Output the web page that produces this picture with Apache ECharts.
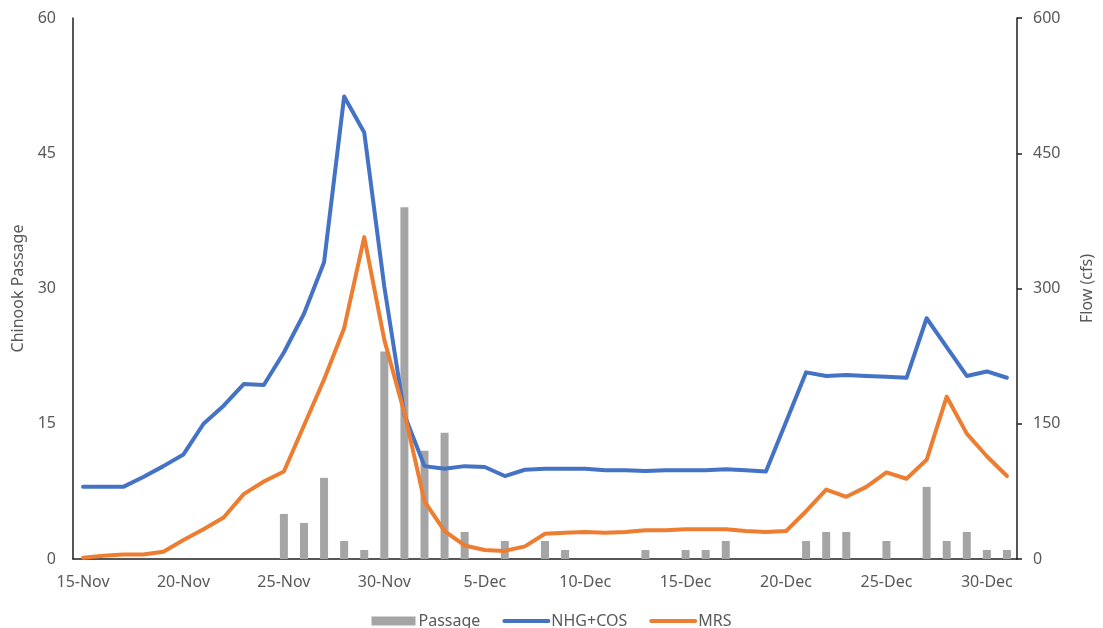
<!DOCTYPE html>
<html>
<head>
<meta charset="utf-8">
<script src="https://cdn.jsdelivr.net/npm/echarts@6/dist/echarts.min.js"></script>
<style>
  html, body { margin: 0; padding: 0; background: #ffffff; }
  #chart { width: 1103px; height: 628px; }
</style>
</head>
<body>
<div id="chart"></div>
<script>
// Daily dates, 15-Nov through 31-Dec
const dates = [
  '15-Nov','16-Nov','17-Nov','18-Nov','19-Nov','20-Nov','21-Nov','22-Nov','23-Nov','24-Nov',
  '25-Nov','26-Nov','27-Nov','28-Nov','29-Nov','30-Nov',
  '1-Dec','2-Dec','3-Dec','4-Dec','5-Dec','6-Dec','7-Dec','8-Dec','9-Dec','10-Dec',
  '11-Dec','12-Dec','13-Dec','14-Dec','15-Dec','16-Dec','17-Dec','18-Dec','19-Dec','20-Dec',
  '21-Dec','22-Dec','23-Dec','24-Dec','25-Dec','26-Dec','27-Dec','28-Dec','29-Dec','30-Dec','31-Dec'
];

// Daily Chinook passage counts (left axis)
const passage = [
  0, 0, 0, 0, 0, 0, 0, 0, 0, 0,
  5, 4, 9, 2, 1, 23,
  39, 12, 14, 3, 0, 2, 0, 2, 1, 0,
  0, 0, 1, 0, 1, 1, 2, 0, 0, 0,
  2, 3, 3, 0, 2, 0, 8, 2, 3, 1, 1
];

// NHG+COS flow, cfs (right axis)
const nhgCos = [
  80, 80, 80, 91, 103, 116, 150, 170, 194, 193,
  229, 272, 329, 513, 473, 302,
  160, 103, 100, 103, 102, 92, 99, 100, 100, 100,
  98.5, 98.5, 97.5, 98.5, 98.5, 98.5, 99.5, 98.5, 97, 152,
  207, 203, 204, 203, 202, 201, 267, 235, 203, 208, 201
];

// MRS flow, cfs (right axis)
const mrs = [
  1.5, 3.5, 5, 5, 8, 21, 33, 46, 72, 86,
  97, 148, 199, 256, 357, 243,
  162, 64, 31, 15, 10, 9, 14, 28, 29, 30,
  29, 30, 32, 32, 33, 33, 33, 31, 30, 31,
  53, 77, 69, 80, 96, 89, 110, 180, 139, 114, 92
];

const FONT = 'Noto Sans';
const TEXT = '#595959';
const AXIS = '#1f1f1f';

const chart = echarts.init(document.getElementById('chart'), null, { renderer: 'canvas' });

chart.setOption({
  animation: false,
  backgroundColor: '#ffffff',
  textStyle: { fontFamily: FONT },
  grid: { left: 73, right: 81, top: 18, bottom: 69, containLabel: false },
  legend: {
    top: 608,
    left: 'center',
    itemWidth: 44,
    itemHeight: 9,
    itemGap: 22,
    textStyle: { fontFamily: FONT, fontSize: 16, color: TEXT, padding: [0, 0, 0, -2] },
    data: [
      { name: 'Passage', icon: 'rect' },
      // plain line swatches, no marker dot
      { name: 'NHG+COS', itemStyle: { opacity: 0 }, lineStyle: { width: 4, cap: 'round' } },
      { name: 'MRS', itemStyle: { opacity: 0 }, lineStyle: { width: 4, cap: 'round' } }
    ]
  },
  xAxis: {
    type: 'category',
    data: dates,
    boundaryGap: true,
    axisLine: { lineStyle: { color: AXIS, width: 1.5 } },
    axisTick: { show: false },
    axisLabel: {
      interval: 4,
      margin: 15,
      fontFamily: FONT,
      fontSize: 16,
      color: TEXT
    },
    splitLine: { show: false }
  },
  yAxis: [
    {
      type: 'value',
      min: 0,
      max: 60,
      interval: 15,
      position: 'left',
      name: 'Chinook Passage',
      nameLocation: 'middle',
      nameRotate: 90,
      nameGap: 47,
      nameTextStyle: { fontFamily: FONT, fontSize: 16, color: TEXT },
      axisLine: { show: true, lineStyle: { color: AXIS, width: 1.5 } },
      axisTick: { show: false },
      axisLabel: { margin: 17, fontFamily: FONT, fontSize: 16, color: TEXT },
      splitLine: { show: false }
    },
    {
      type: 'value',
      min: 0,
      max: 600,
      interval: 150,
      position: 'right',
      name: 'Flow (cfs)',
      nameLocation: 'middle',
      nameRotate: 90,
      nameGap: 62,
      nameTextStyle: { fontFamily: FONT, fontSize: 16, color: TEXT },
      axisLine: { show: true, lineStyle: { color: AXIS, width: 1.5 } },
      axisTick: { show: true, inside: false, length: 5, lineStyle: { color: AXIS, width: 1.5 } },
      axisLabel: { margin: 16, fontFamily: FONT, fontSize: 16, color: TEXT },
      splitLine: { show: false }
    }
  ],
  series: [
    {
      name: 'Passage',
      type: 'bar',
      yAxisIndex: 0,
      data: passage,
      barWidth: 8,
      itemStyle: { color: '#a5a5a5' },
      z: 1
    },
    {
      name: 'NHG+COS',
      type: 'line',
      yAxisIndex: 1,
      data: nhgCos,
      symbol: 'none',
      smooth: false,
      lineStyle: { color: '#4472c4', width: 4, cap: 'round', join: 'round' },
      itemStyle: { color: '#4472c4' },
      z: 3
    },
    {
      name: 'MRS',
      type: 'line',
      yAxisIndex: 1,
      data: mrs,
      symbol: 'none',
      smooth: false,
      lineStyle: { color: '#ed7d31', width: 4, cap: 'round', join: 'round' },
      itemStyle: { color: '#ed7d31' },
      z: 4
    }
  ]
});
</script>
</body>
</html>
